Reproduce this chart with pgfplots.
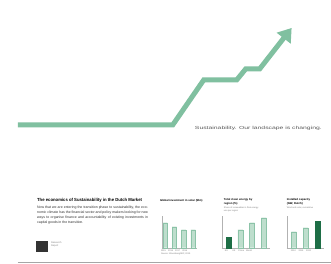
\documentclass[border=0pt]{standalone}
\usepackage{pgfplots}
\pgfplotsset{compat=1.18}
\usepackage{fontspec}
\setmainfont{Liberation Sans}
\usetikzlibrary{arrows.meta}
\definecolor{linegreen}{RGB}{128,192,160}
\definecolor{darkgreen}{RGB}{30,110,70}
\definecolor{lightbar}{RGB}{190,222,205}
\definecolor{lightedge}{RGB}{140,195,168}
\definecolor{txt}{RGB}{50,50,50}
\pgfplotsset{
  mini/.style={
    scale only axis, anchor=south west,
    axis x line=bottom, axis y line=left,
    axis line style={draw=gray!60, line width=0.3pt, -},
    ymin=0, ymax=32, ytick=\empty,
    xtick=data, xticklabels=\empty, major tick length=0pt,
    ybar, bar width=4.5pt,
    clip=false,
  }
}
\begin{document}
\begin{tikzpicture}
\path[fill=white] (0pt,0pt) rectangle (331pt,-264pt);
\begin{axis}[at={(0pt,0pt)}, anchor=north west, width=331pt, height=264pt,
  scale only axis, xmin=0, xmax=331, ymin=0, ymax=264, y dir=reverse,
  hide axis, clip=false]
\addplot[linegreen, line width=5pt, line join=miter,
  -{Triangle[width=17pt,length=13pt]}] coordinates
  {(18,125) (173,125) (204,80) (237,80) (246,69) (260,69) (292,28)};
\node[anchor=base west, text=black!65, inner sep=0]
  at (axis cs:195,129.5) {\resizebox{127pt}{3.2pt}{Sustainability. Our landscape is changing.}};
% bottom rule
\addplot[gray!70, line width=0.8pt] coordinates {(18,262.5) (331,262.5)};
% left text block
\node[anchor=base west, text=black, inner sep=0]
  at (axis cs:37,202) {\resizebox{105pt}{3.2pt}{\bfseries The economics of Sustainability in the Dutch Market}};
\node[anchor=north west, align=justify, text width=111pt,
  font=\fontsize{3.5}{5}\selectfont, text=txt, inner sep=0]
  at (axis cs:37,206) {Now that we are entering the transition phase to sustainability, the economic climate has the financial sector and policy makers looking for new ways to organise finance and accountability of existing investments in capital goods in the transition.};
\fill[black!80] (axis cs:36,241) rectangle (axis cs:48,252);
\node[anchor=north west, font=\fontsize{2.4}{3}\selectfont, text=gray, inner sep=0, align=left]
  at (axis cs:51,242) {Research\\Report};
% chart titles
\node[anchor=north west, font=\bfseries\fontsize{2.8}{3.4}\selectfont, inner sep=0]
  at (axis cs:160,199) {Global investment in solar (\$bn)};
\node[anchor=north west, font=\bfseries\fontsize{2.8}{3.4}\selectfont, inner sep=0, align=left]
  at (axis cs:224,199) {Total clean energy by\\region (\%)};
\node[anchor=north west, font=\fontsize{2.2}{2.8}\selectfont, text=gray, inner sep=0, align=left]
  at (axis cs:224,207) {Share of renewables in final energy\\use per region};
\node[anchor=north west, font=\bfseries\fontsize{2.8}{3.4}\selectfont, inner sep=0, align=left]
  at (axis cs:287,199) {Installed capacity\\(GW, Dutch)};
\node[anchor=north west, font=\fontsize{2.2}{2.8}\selectfont, text=gray, inner sep=0]
  at (axis cs:287,207) {Wind and solar, cumulative};
\node[anchor=north west, font=\fontsize{2.2}{2.8}\selectfont, text=gray, inner sep=0, align=left]
  at (axis cs:161,250) {2015\quad 2016\quad 2017\quad 2018\\Source: BloombergNEF, 2019};
\node[anchor=north west, font=\fontsize{2.2}{2.8}\selectfont, text=gray, inner sep=0]
  at (axis cs:225,250) {EU\qquad US\quad\ China\quad World};
\node[anchor=north west, font=\fontsize{2.2}{2.8}\selectfont, text=gray, inner sep=0]
  at (axis cs:291,250) {2010\quad\ 2015\quad\ 2020};
\end{axis}
% chart 1
\begin{axis}[mini, at={(162pt,-248pt)}, width=35pt, height=32pt, xmin=-0.35, xmax=3.4]
\addplot[fill=lightbar, draw=lightedge, line width=0.4pt] coordinates {(0,25) (1,21) (2,18) (3,18)};
\end{axis}
% chart 2
\begin{axis}[mini, at={(222pt,-248pt)}, width=48pt, height=32pt, xmin=-0.6, xmax=3.5, bar width=5pt]
\addplot[fill=lightbar, draw=lightedge, line width=0.4pt, bar shift=0pt] coordinates {(1,18) (2,25) (3,30)};
\addplot[fill=darkgreen, draw=darkgreen, bar shift=0pt] coordinates {(0,11)};
\end{axis}
% chart 3
\begin{axis}[mini, at={(287pt,-248pt)}, width=37pt, height=32pt, xmin=-0.6, xmax=2.5, bar width=5pt]
\addplot[fill=lightbar, draw=lightedge, line width=0.4pt, bar shift=0pt] coordinates {(0,16) (1,20)};
\addplot[fill=darkgreen, draw=darkgreen, bar shift=0pt] coordinates {(2,27)};
\end{axis}
\end{tikzpicture}
\end{document}
